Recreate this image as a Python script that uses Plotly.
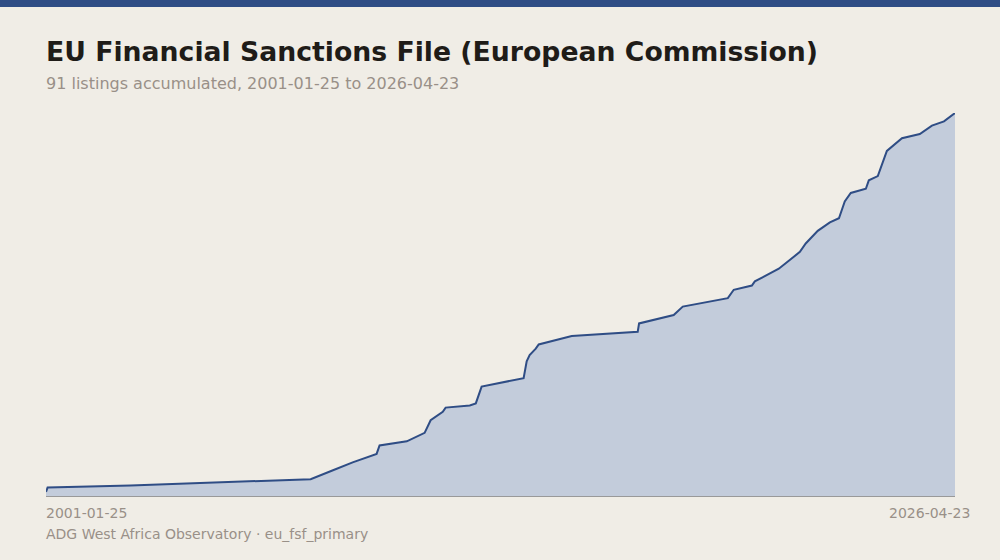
import plotly.graph_objects as go

dates = ["2001-01-25", "2001-02-10", "2003-06-01", "2005-01-01", "2007-01-01", "2008-06-01",
         "2009-01-01", "2009-08-01", "2010-04-01", "2010-05-01", "2011-02-01", "2011-08-01",
         "2011-10-01", "2012-02-01", "2012-03-01", "2012-11-01", "2013-01-01", "2013-03-01",
         "2014-05-01", "2014-06-01", "2014-07-01", "2014-09-01", "2014-10-01", "2015-09-01",
         "2017-07-01", "2017-07-15", "2018-07-01", "2018-10-01", "2020-01-01", "2020-03-01",
         "2020-09-01", "2020-10-01", "2021-06-01", "2022-01-01", "2022-03-01", "2022-07-01",
         "2022-11-01", "2023-02-01", "2023-04-01", "2023-06-01", "2023-11-01", "2023-12-01",
         "2024-03-01", "2024-05-01", "2024-06-01", "2024-11-01", "2025-05-01", "2025-09-01",
         "2026-01-01", "2026-04-23"]
counts = [1, 2, 2.5, 3, 3.5, 4,
          6, 8, 10, 12, 13, 15,
          18, 20, 21, 21.5, 22, 26,
          28, 32, 33.5, 35, 36, 38,
          39, 41, 43, 45, 47, 49,
          50, 51, 54, 58, 60, 63,
          65, 66, 70, 72, 73, 75,
          76, 80, 82, 85, 86, 88,
          89, 91]

H = 383  # plot height in px, bottom of plot at y=496


def py(ypx):
    return (496 - ypx) / H


def note(text, x, y, size, color, xanchor="left"):
    return dict(text=text, xref="paper", yref="paper", x=x, y=py(y), xanchor=xanchor,
                yanchor="middle", showarrow=False, borderpad=0, borderwidth=0,
                font=dict(size=size, color=color))


fig = go.Figure()
fig.add_trace(go.Scatter(x=dates, y=counts, mode="lines", line=dict(color="#2f4d85", width=2),
                         fill="tozeroy", fillcolor="#c3ccdb", hoverinfo="skip"))

fig.update_layout(
    width=1000, height=560, paper_bgcolor="#f0ede6", plot_bgcolor="#f0ede6",
    margin=dict(l=46, r=45, t=113, b=64), showlegend=False,
    xaxis=dict(range=["2001-01-25", "2026-04-23"], showgrid=False, showticklabels=False,
               zeroline=False, showline=True, linecolor="#999999", linewidth=1),
    yaxis=dict(range=[0, 91], visible=False),
    font=dict(family="DejaVu Sans", color="#999088"),
    shapes=[dict(type="rect", xref="paper", yref="paper", x0=-0.1, x1=1.1, y0=py(7), y1=py(-5),
                 fillcolor="#2f4d85", line=dict(width=0))],
    annotations=[
        note("<b>EU Financial Sanctions File (European Commission)</b>", 0, 52, 26.7, "#1f1c18"),
        note("91 listings accumulated, 2001-01-25 to 2026-04-23", 0, 84, 16, "#999088"),
        note("2001-01-25", 0, 513, 14, "#999088"),
        note("2026-04-23", (970 - 46) / 909, 513, 14, "#999088", xanchor="right"),
        note("ADG West Africa Observatory · eu_fsf_primary", 0, 534, 14, "#999088"),
    ],
)
fig.write_html("out.html", config={"displayModeBar": False},
               post_script="document.body.style.margin='0';")
